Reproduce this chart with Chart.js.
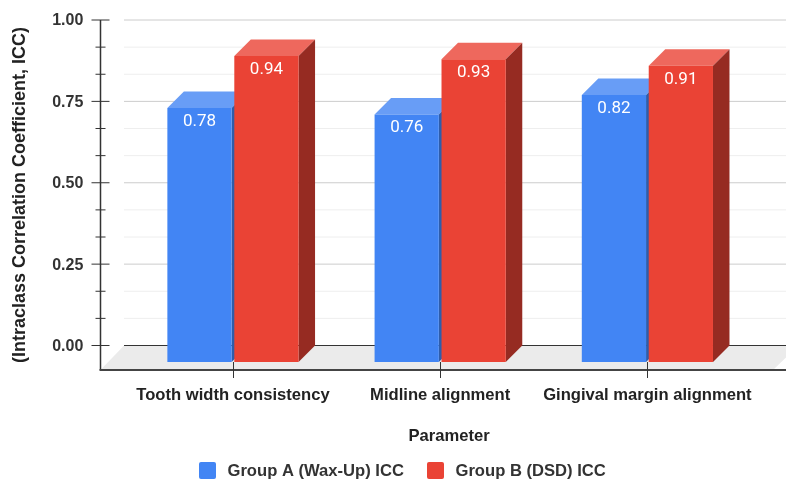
<!DOCTYPE html>
<html>
<head>
<meta charset="utf-8">
<title>ICC by parameter</title>
<script src="https://cdn.jsdelivr.net/npm/chart.js@4"></script>
<style>
    html, body { margin: 0; padding: 0; background: #fff; }
    canvas { display: block; }
</style>
</head>
<body>
<canvas id="iccChart" width="786" height="479"></canvas>
<script>
const categories = ['Tooth width consistency', 'Midline alignment', 'Gingival margin alignment'];
const seriesNames = ['Group A (Wax-Up) ICC', 'Group B (DSD) ICC'];
const groupA = [0.78, 0.76, 0.82];
const groupB = [0.94, 0.93, 0.91];
const majorTicks = [0, 0.25, 0.5, 0.75, 1];
const minorTicks = [1 / 12, 2 / 12, 4 / 12, 5 / 12, 7 / 12, 8 / 12, 10 / 12, 11 / 12];

const barColors = ['#4285f4', '#ea4335'];
const topColors = ['#689df6', '#ee685d'];
const sideColors = ['#2e5dab', '#962b22'];
const labelFont = 'bold 16.6px "Liberation Sans", Arial, sans-serif';

// the value axis reads on the back wall, bars stand this far in front of it
const depth = 16.5;

function polygon(ctx, color, points) {
    ctx.fillStyle = color;
    ctx.beginPath();
    points.forEach(p => ctx.lineTo(p[0], p[1]));
    ctx.closePath();
    ctx.fill();
}

function hLine(ctx, color, width, x1, x2, y) {
    ctx.strokeStyle = color;
    ctx.lineWidth = width;
    ctx.beginPath();
    ctx.moveTo(x1, y);
    ctx.lineTo(x2, y);
    ctx.stroke();
}

function vLine(ctx, color, width, x, y1, y2) {
    ctx.strokeStyle = color;
    ctx.lineWidth = width;
    ctx.beginPath();
    ctx.moveTo(x, y1);
    ctx.lineTo(x, y2);
    ctx.stroke();
}

// floor, back wall grid, axis lines and the extruded faces of the columns
const box3d = {
    id: 'box3d',
    beforeDatasetsDraw(chart) {
        const ctx = chart.ctx;
        const y = chart.scales.y;
        const wallLeft = 124;
        const axisLeft = 100.5;
        const right = 786;
        const floorBack = y.getPixelForValue(0) - depth;
        const floorFront = chart.chartArea.bottom;

        ctx.save();
        polygon(ctx, '#ebebeb', [
            [axisLeft, floorFront], [wallLeft, floorBack], [right, floorBack],
            [right, floorBack + 12], [right - 13, floorFront]
        ]);

        minorTicks.forEach(v => {
            const py = y.getPixelForValue(v) - depth;
            hLine(ctx, '#eeeeee', 1, wallLeft, right, py);
            hLine(ctx, '#333333', 1, axisLeft - 5, axisLeft + 5, py);
        });
        majorTicks.forEach(v => {
            const py = y.getPixelForValue(v) - depth;
            hLine(ctx, v === 0 ? '#333333' : '#cccccc', 1, wallLeft, right, py);
            hLine(ctx, '#333333', 1, axisLeft - 9, axisLeft + 9, py);
        });

        vLine(ctx, '#333333', 1.5, axisLeft, y.getPixelForValue(1) - depth, floorFront);
        hLine(ctx, '#444444', 2, axisLeft - 1, right, floorFront);

        chart.data.datasets.forEach((ds, i) => {
            chart.getDatasetMeta(i).data.forEach(bar => {
                const l = bar.x - bar.width / 2;
                const r = bar.x + bar.width / 2;
                polygon(ctx, topColors[i], [
                    [l, bar.y], [r, bar.y], [r + depth, bar.y - depth], [l + depth, bar.y - depth]
                ]);
                polygon(ctx, sideColors[i], [
                    [r, bar.y], [r + depth, bar.y - depth], [r + depth, bar.base - depth], [r, bar.base]
                ]);
            });
        });
        ctx.restore();
    },
    afterDatasetsDraw(chart) {
        const ctx = chart.ctx;
        const bottom = chart.chartArea.bottom;
        ctx.save();
        // category tick marks on the front edge
        chart.scales.x.ticks.forEach((t, i) => {
            vLine(ctx, '#333333', 1, Math.round(chart.scales.x.getPixelForTick(i)) + 0.5, bottom - 8, bottom + 8);
        });
        // value labels inside the column tops
        ctx.font = '17px Roboto, sans-serif';
        ctx.fillStyle = '#ffffff';
        ctx.textAlign = 'center';
        ctx.textBaseline = 'middle';
        chart.data.datasets.forEach((ds, i) => {
            chart.getDatasetMeta(i).data.forEach((bar, j) => {
                ctx.fillText(ds.data[j].toFixed(2), bar.x, bar.y + 13.5);
            });
        });
        // axis name under the categories, it sits right of the plot centre
        ctx.font = labelFont;
        ctx.fillStyle = '#222222';
        ctx.fillText('Parameter', 449, 436);
        // legend row
        const boxes = [199, 427];
        ctx.textAlign = 'left';
        seriesNames.forEach((name, i) => {
            ctx.fillStyle = barColors[i];
            ctx.beginPath();
            ctx.roundRect(boxes[i], 462, 17, 17, 2);
            ctx.fill();
            ctx.fillStyle = '#333333';
            ctx.fillText(name, boxes[i] + 28.5, 471);
        });
        ctx.restore();
    }
};

new Chart(document.getElementById('iccChart').getContext('2d'), {
    type: 'bar',
    plugins: [box3d],
    data: {
        labels: categories,
        datasets: [
            { label: seriesNames[0], data: groupA, backgroundColor: barColors[0] },
            { label: seriesNames[1], data: groupB, backgroundColor: barColors[1] }
        ]
    },
    options: {
        responsive: false,
        animation: false,
        layout: { autoPadding: false, padding: { top: 20, right: 35, left: 0, bottom: 74 } },
        categoryPercentage: 0.646,
        barPercentage: 0.96,
        plugins: {
            legend: { display: false },
            tooltip: { enabled: false }
        },
        scales: {
            x: {
                grid: { display: false, drawTicks: false },
                border: { display: false },
                ticks: {
                    color: '#222222',
                    font: { family: '"Liberation Sans"', size: 16.6, weight: 'bold' },
                    padding: 15,
                    maxRotation: 0,
                    autoSkip: false
                },
                afterFit(scale) { scale.height = 35; }
            },
            y: {
                // 325.5px per unit, zero sits 8px above the front edge of the floor
                min: -8 / 325.5,
                max: 342 / 325.5,
                grid: { display: false, drawTicks: false },
                border: { display: false },
                afterBuildTicks(scale) {
                    scale.ticks = majorTicks.concat(minorTicks).sort((a, b) => a - b).map(v => ({ value: v }));
                },
                ticks: {
                    autoSkip: false,
                    labelOffset: -depth + 1,
                    padding: 46,
                    color: '#333333',
                    font: { family: '"Liberation Sans"', size: 16, weight: 'bold' },
                    callback: v => (majorTicks.includes(v) ? v.toFixed(2) : '')
                },
                title: {
                    display: true,
                    text: '(Intraclass Correlation Coefficient, ICC)',
                    color: '#222222',
                    font: { family: '"Liberation Sans"', size: 18, weight: 'bold' },
                    padding: { top: 9, bottom: 0 }
                },
                afterFit(scale) {
                    scale.width = 129.35;
                    // the big tick padding would otherwise push the plot top down
                    scale.paddingTop = 0;
                    scale.paddingBottom = 0;
                }
            }
        }
    }
});
</script>
</body>
</html>
